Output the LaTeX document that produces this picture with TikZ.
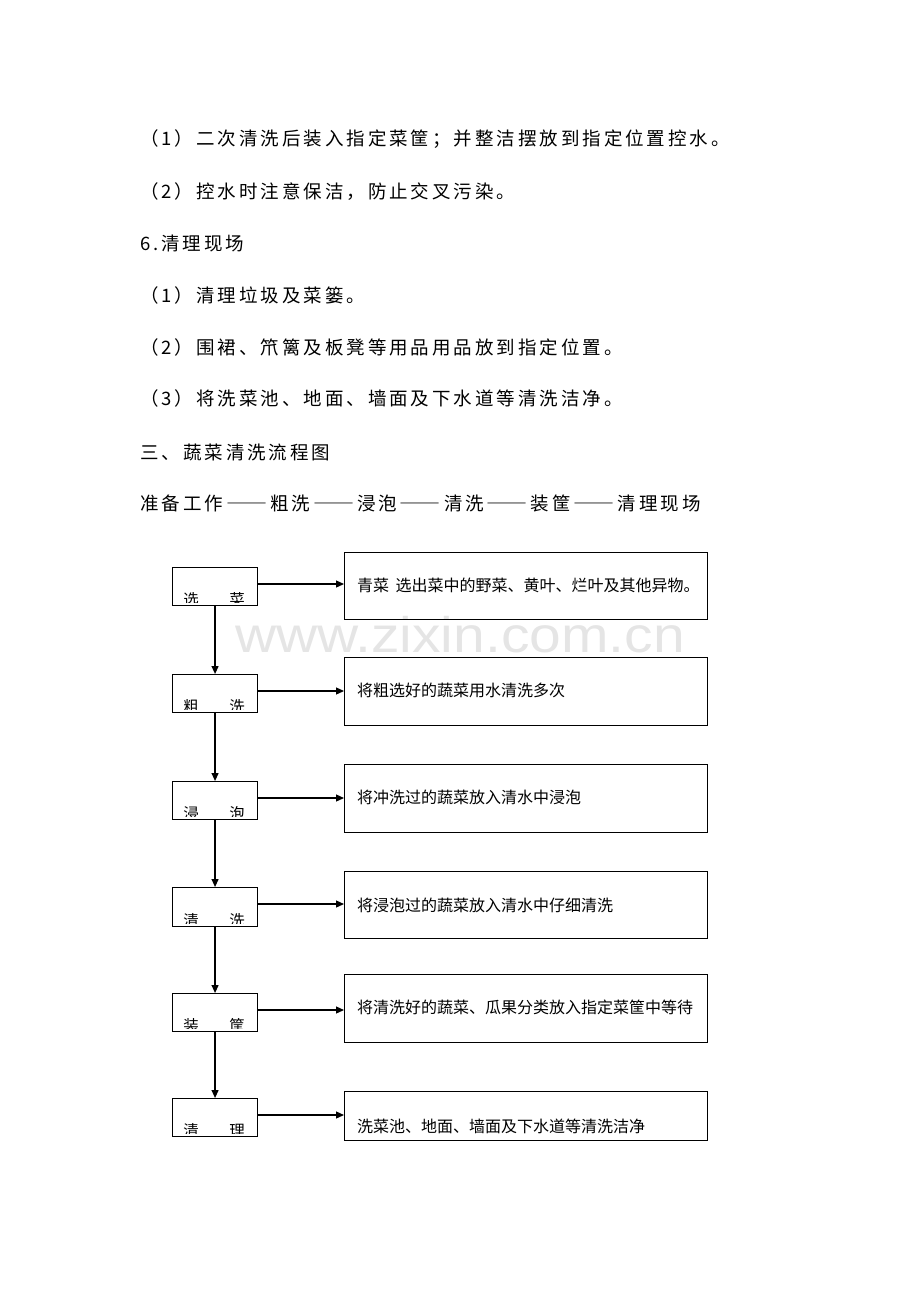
\documentclass[tikz,border=0pt]{standalone}
\usepackage{fontspec}
\usetikzlibrary{arrows.meta,calc}
\newfontfamily\cjk{Noto Sans CJK SC}
\newfontfamily\cjkls[LetterSpace=16]{Noto Sans CJK SC}
\newfontfamily\cjkdash[CharacterWidth=Full]{Noto Sans CJK SC}
\newfontfamily\wmfont{Liberation Sans}
\newcommand{\ddash}{\makebox[47pt][c]{\cjkdash\scalebox{1.11}[1]{——}}}
\begin{document}
\begin{tikzpicture}[x=1pt,y=-1pt,
  lbox/.style={draw, line width=1.1pt, minimum width=85pt, inner sep=0pt, anchor=north west},
  rbox/.style={draw, line width=1.1pt, minimum width=363pt, inner sep=0pt, anchor=north west},
  arr/.style={line width=1.2pt, -{Triangle[length=8pt,width=7pt]}},
  toptext/.style={anchor=west, inner sep=0pt, font=\cjkls\fontsize{18.5pt}{18.5pt}\selectfont},
  boxtext/.style={anchor=west, inner sep=0pt, font=\cjk\fontsize{16pt}{16pt}\selectfont},
  labtext/.style={anchor=base, inner sep=0pt, font=\cjk\fontsize{15.5pt}{15.5pt}\selectfont},
  wm/.style={anchor=base, inner sep=0pt, text=black!10, xscale=1.14, font=\wmfont\fontsize{50pt}{50pt}\selectfont}
]
\useasboundingbox (0,0) rectangle (920,1302);

% watermark
\node[wm] (wmark) at (460,652) {www.zixin.com.cn};

% top text
\node[toptext] (p1) at (140,139.5) {（1）二次清洗后装入指定菜筐；并整洁摆放到指定位置控水。};
\node[toptext] (p2) at (140,192) {（2）控水时注意保洁，防止交叉污染。};
\node[toptext] (p3) at (140,243) {6.清理现场};
\node[toptext] (p4) at (140,295) {（1）清理垃圾及菜篓。};
\node[toptext] (p5) at (140,347) {（2）围裙、笊篱及板凳等用品用品放到指定位置。};
\node[toptext] (p6) at (140,398.5) {（3）将洗菜池、地面、墙面及下水道等清洗洁净。};
\node[toptext] (p7) at (140,452) {三、蔬菜清洗流程图};
\node[toptext] (p8) at (140,503) {准备工作\ddash 粗洗\ddash 浸泡\ddash 清洗\ddash 装筐\ddash 清理现场};

% left boxes
\node[lbox, minimum height=38pt] (l1) at (172,567) {};
\node[lbox, minimum height=38pt] (l2) at (172,674) {};
\node[lbox, minimum height=38pt] (l3) at (172,781) {};
\node[lbox, minimum height=39pt] (l4) at (172,887) {};
\node[lbox, minimum height=38pt] (l5) at (172,993) {};
\node[lbox, minimum height=38pt] (l6) at (172,1098) {};

% right boxes
\node[rbox, minimum height=67pt] (r1) at (344,552) {};
\node[rbox, minimum height=68pt] (r2) at (344,657) {};
\node[rbox, minimum height=68pt] (r3) at (344,764) {};
\node[rbox, minimum height=67pt] (r4) at (344,871) {};
\node[rbox, minimum height=68pt] (r5) at (344,974) {};
\node[rbox, minimum height=49pt] (r6) at (344,1091) {};

% right box texts
\node[boxtext] (t1) at (357,585) {青菜\hspace{0.4em}选出菜中的野菜、黄叶、烂叶及其他异物。};
\node[boxtext] (t2) at (357,690) {将粗选好的蔬菜用水清洗多次};
\node[boxtext] (t3) at (357,797) {将冲洗过的蔬菜放入清水中浸泡};
\node[boxtext] (t4) at (357,905) {将浸泡过的蔬菜放入清水中仔细清洗};
\node[boxtext] (t5) at (357,1007) {将清洗好的蔬菜、瓜果分类放入指定菜筐中等待};
\node[boxtext] (t6) at (357,1126) {洗菜池、地面、墙面及下水道等清洗洁净};

% clipped labels in left boxes
\foreach \b/\ca/\cb in {l1/选/菜, l2/粗/洗, l3/浸/泡, l4/清/洗, l5/装/筐, l6/清/理}{
  \begin{scope}
    \clip ($(\b.north west)+(1,1)$) rectangle ($(\b.south east)+(-1,-3.5)$);
    \node[labtext] (\b a) at ($(\b.south west)+(19,-0.5)$) {\ca};
    \node[labtext] (\b b) at ($(\b.south west)+(65,-0.5)$) {\cb};
  \end{scope}
}

% vertical arrows
\draw[arr] (l1.south) -- (l2.north);
\draw[arr] (l2.south) -- (l3.north);
\draw[arr] (l3.south) -- (l4.north);
\draw[arr] (l4.south) -- (l5.north);
\draw[arr] (l5.south) -- (l6.north);

% horizontal arrows
\foreach \i in {1,...,6}{
  \coordinate (a\i) at ($(l\i.north east)+(0,17)$);
  \draw[arr] (a\i) -- (a\i -| r\i.west);
}
\end{tikzpicture}
\end{document}
